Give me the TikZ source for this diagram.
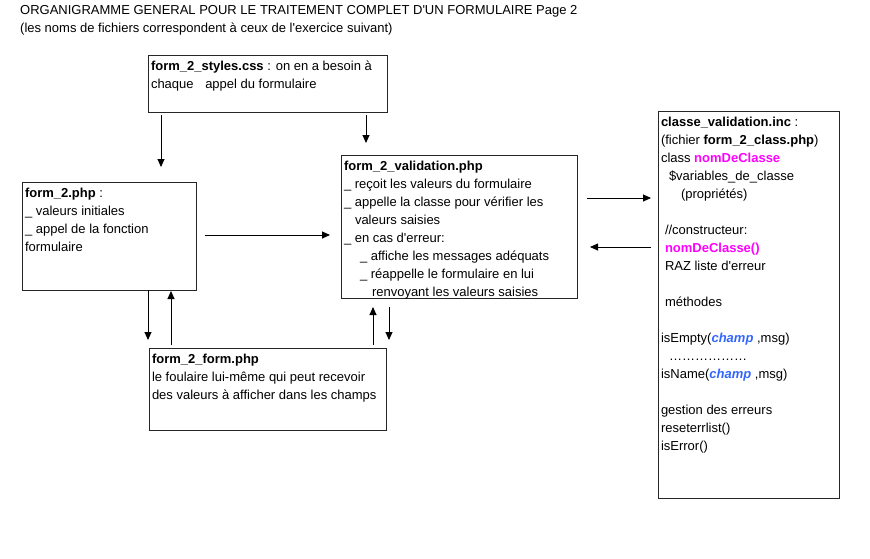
\documentclass[tikz,border=0pt]{standalone}
\usepackage{fontspec}
\setmainfont{Liberation Sans}
\usetikzlibrary{arrows.meta}
\definecolor{mag}{RGB}{255,0,255}
\definecolor{chb}{RGB}{51,102,255}
\newcommand{\bx}[3]{\parbox[t][#2pt][t]{#1pt}{\fontsize{13}{18}\selectfont\strut #3}}
\newcommand{\ind}[1]{\hspace*{#1pt}}
\newcommand{\ap}{\textquotesingle}
\begin{document}
\begin{tikzpicture}[x=1pt,y=-1pt,
  box/.style={draw=black!85,line width=0.9pt,anchor=north west,inner xsep=3pt,inner ysep=3pt,outer sep=0pt},
  arr/.style={-{Triangle[length=8pt,width=7pt]},line width=0.9pt},
  ttl/.style={anchor=base west,inner sep=0pt,font=\fontsize{13}{14}\selectfont}]
\useasboundingbox (0,0) rectangle (870,558);
\node[ttl] (t1) at (20,14) {ORGANIGRAMME GENERAL POUR LE TRAITEMENT COMPLET D\ap UN FORMULAIRE Page 2};
\node[ttl] (t2) at (20,32) {(les noms de fichiers correspondent à ceux de l\ap exercice suivant)};
\node[box] (sty) at (148,55) {\bx{233}{51}{\textbf{form\_2\_styles.css} : on en a besoin à\\chaque \ind{8}appel du formulaire}};
\node[box] (f2) at (22,182) {\bx{168}{102}{\textbf{form\_2.php} :\\\_ valeurs initiales\\\_ appel de la fonction\\formulaire}};
\node[box] (val) at (341,155) {\bx{230}{137}{\textbf{form\_2\_validation.php}\\\_ reçoit les valeurs du formulaire\\\_ appelle la classe pour vérifier les\\\ind{11}valeurs saisies\\\_ en cas d\ap erreur:\\\ind{16}\_ affiche les messages adéquats\\\ind{16}\_ réappelle le formulaire en lui\\\ind{28}renvoyant les valeurs saisies}};
\node[box] (frm) at (149,348) {\bx{231}{76}{\textbf{form\_2\_form.php}\\le foulaire lui-même qui peut recevoir\\des valeurs à afficher dans les champs}};
\node[box] (cls) at (658,111) {\bx{175}{381}{\textbf{classe\_validation.inc} :\\(fichier \textbf{form\_2\_class.php})\\class \textcolor{mag}{\textbf{nomDeClasse}}\\\ind{8}\$variables\_de\_classe\\\ind{20}(propriétés)\\[18pt]\ind{4}//constructeur:\\\ind{4}\textcolor{mag}{\textbf{nomDeClasse()}}\\\ind{4}RAZ liste d\ap erreur\\[18pt]\ind{4}méthodes\\[18pt]isEmpty(\textcolor{chb}{\textbf{\textit{champ}}} ,msg)\\\ind{8}………………\\isName(\textcolor{chb}{\textbf{\textit{champ}}} ,msg)\\[18pt]gestion des erreurs\\reseterrlist()\\isError()}};
% connectors
\draw[arr,shorten <=3pt,shorten >=15pt] (sty.south -| 161,0) -- (f2.north -| 161,0);
\draw[arr,shorten <=3pt,shorten >=12pt] (sty.south -| 366,0) -- (val.north -| 366,0);
\draw[arr,shorten <=9pt,shorten >=11pt] (f2.east |- 0,235) -- (val.west |- 0,235);
\draw[arr,shorten >=8pt] (f2.south -| 148,0) -- (frm.north -| 148,0);
\draw[arr,shorten <=3pt,shorten >=1pt] (frm.north -| 171,0) -- (f2.south -| 171,0);
\draw[arr,shorten <=3pt,shorten >=9pt] (frm.north -| 373,0) -- (val.south -| 373,0);
\draw[arr,shorten <=9pt,shorten >=8pt] (val.south -| 389,0) -- (frm.north -| 389,0);
\draw[arr,shorten <=10pt,shorten >=7pt] (val.east |- 0,198) -- (cls.west |- 0,198);
\draw[arr,shorten <=7pt,shorten >=13pt] (cls.west |- 0,247) -- (val.east |- 0,247);
\end{tikzpicture}
\end{document}
